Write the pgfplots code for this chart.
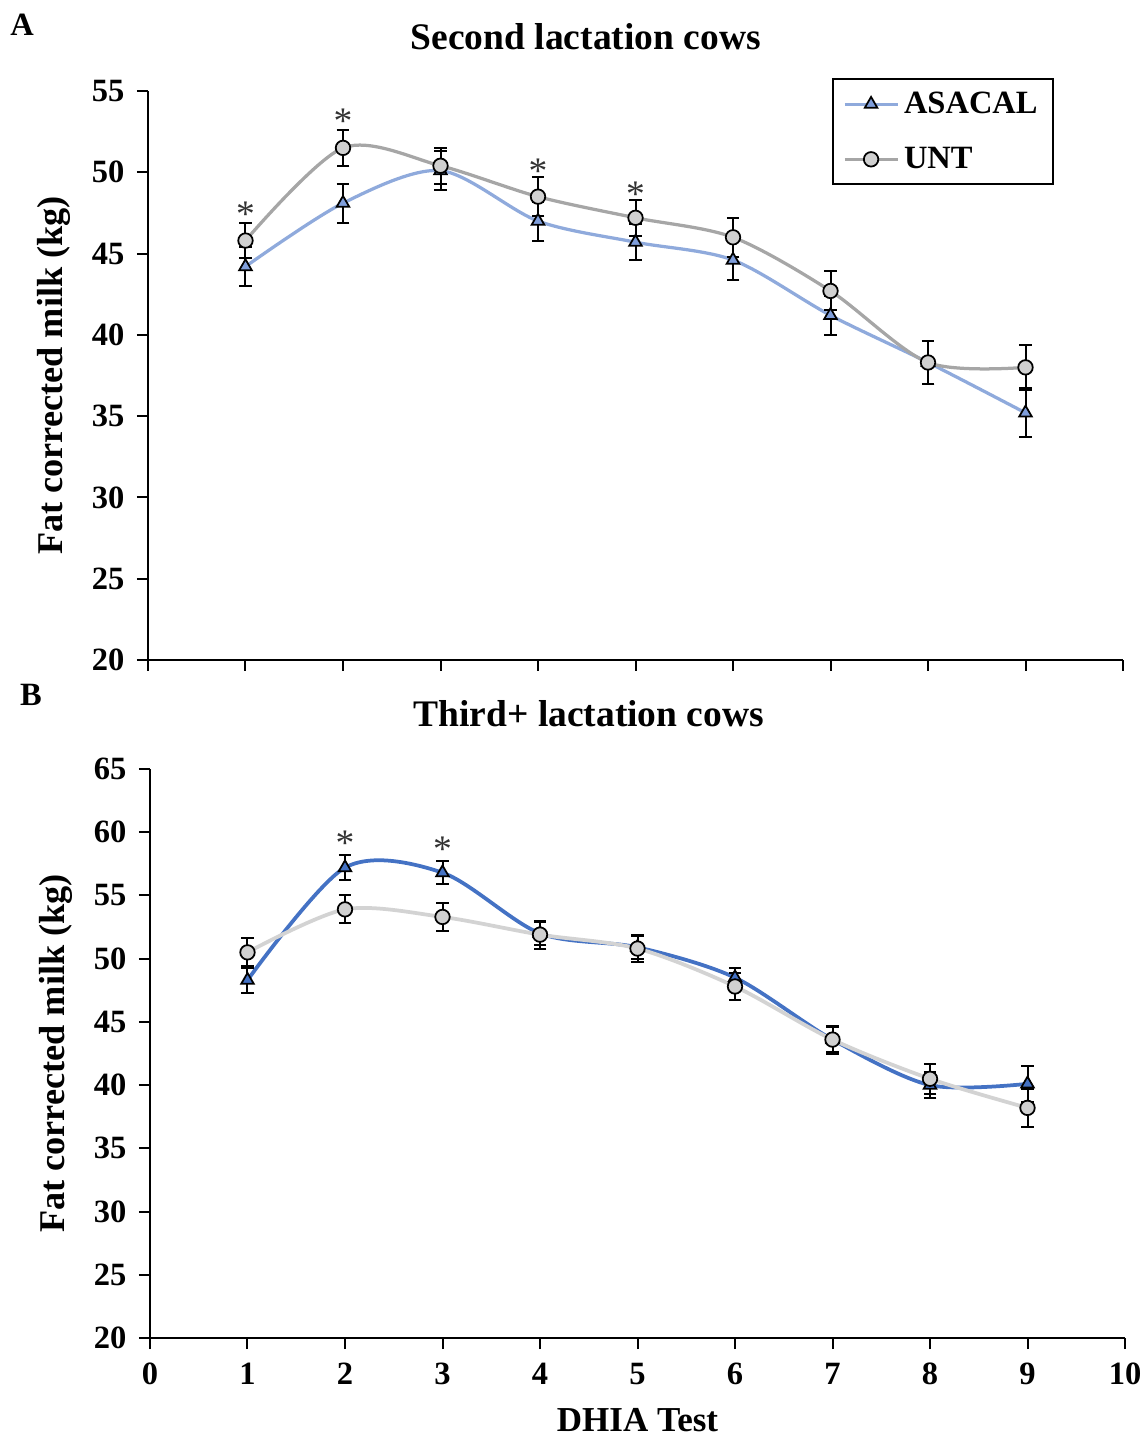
\documentclass[border=0pt]{standalone}
\usepackage{fontspec}
\setmainfont{Liberation Serif}
\usepackage{pgfplots}
\usepackage{pgfplotstable}
\pgfplotsset{compat=1.18}

\definecolor{AsaLight}{HTML}{8FAADC}
\definecolor{AsaLightFill}{HTML}{7F9EDB}
\definecolor{UntGray}{HTML}{A6A6A6}
\definecolor{UntFill}{HTML}{D0D0D0}
\definecolor{AsaDark}{HTML}{4472C4}
\definecolor{UntLight}{HTML}{D3D3D3}
\definecolor{StarGray}{HTML}{333333}

% panel A: second lactation
\pgfplotstableread{
x y e
1 44.2 1.2
2 48.1 1.2
3 50.1 1.2
4 47.0 1.2
5 45.7 1.1
6 44.6 1.2
7 41.2 1.2
8 38.3 1.3
9 35.2 1.5
}\secAsa
\pgfplotstableread{
x y e
1 45.8 1.1
2 51.5 1.1
3 50.4 1.1
4 48.5 1.2
5 47.2 1.1
6 46.0 1.2
7 42.7 1.2
8 38.3 1.3
9 38.0 1.4
}\secUnt
% panel B: third+ lactation
\pgfplotstableread{
x y e
1 48.3 1.0
2 57.2 1.0
3 56.8 0.9
4 52.0 0.9
5 50.9 0.9
6 48.5 0.8
7 43.6 1.0
8 40.0 1.0
9 40.1 1.4
}\thrAsa
\pgfplotstableread{
x y e
1 50.5 1.1
2 53.9 1.1
3 53.3 1.1
4 51.9 1.1
5 50.8 1.1
6 47.8 1.1
7 43.6 1.1
8 40.5 1.2
9 38.2 1.5
}\thrUnt

\pgfplotsset{
  panel/.style={
    scale only axis, width=390pt, height=227.6pt,
    xmin=0, xmax=10, ymin=20,
    xtick={0,1,...,10},
    axis lines=left,
    axis line style={-, line width=0.8pt, black},
    tick align=outside, major tick length=4.4pt,
    tick style={line width=0.8pt, black},
    tick label style={font=\fontsize{13}{15}\selectfont\bfseries},
    /pgf/number format/assume math mode=true,
    yticklabel style={xshift=-1.5pt},
    xticklabel style={yshift=-2pt},
    ylabel={Fat corrected milk (kg)},
    ylabel style={font=\fontsize{14.5}{17}\selectfont\bfseries,
      at={(axis description cs:-0.096,0.5)}, anchor=center},
    clip=false,
  },
  ebars/.style={error bars/.cd, y dir=both, y explicit,
    error bar style={black, line width=0.8pt},
    error mark options={rotate=90, black, mark size=2.5pt, line width=0.8pt}},
  stars/.style={only marks, mark=text, text mark={*}, text mark as node=true,
    text mark style={font=\fontsize{15}{15}\selectfont, text=StarGray}, forget plot},
  legend image code/.code={\draw[mark repeat=2,mark phase=2,#1]
    plot coordinates {(0cm,0cm) (0.37cm,0cm) (0.74cm,0cm)};},
}
\tikzset{paneltitle/.style={font=\fontsize{15}{18}\selectfont\bfseries, anchor=center}}

\begin{document}
\begin{tikzpicture}
\path[use as bounding box] (-60pt,-40.4pt) rectangle (399.2pt,535.2pt);

\begin{axis}[panel, at={(-0.8pt,271.2pt)}, anchor=south west,
  ymax=55, ytick={20,25,...,55}, xticklabels={},
  legend style={at={(0.929,1.023)}, anchor=north east, draw=black,
    line width=0.9pt, font=\fontsize{13}{15}\selectfont\bfseries,
    row sep=8pt, inner xsep=4pt, inner ysep=3pt},
  legend cell align=left]
  \addplot[AsaLight, line width=1.3pt, smooth, mark=triangle*, mark size=2.9pt,
    mark options={fill=AsaLightFill, draw=black, line width=0.7pt}, ebars]
    table[x=x, y=y, y error=e] {\secAsa};
  \addplot[UntGray, line width=1.3pt, smooth, mark=*, mark size=2.9pt,
    mark options={fill=UntFill, draw=black, line width=0.7pt}, ebars]
    table[x=x, y=y, y error=e] {\secUnt};
  \addplot[stars] coordinates {(1,47.45) (2,53.15) (4,50.05) (5,48.65)};
  \legend{ASACAL,UNT}
  \node[paneltitle] at (rel axis cs:0.449,1.095) {Second lactation cows};
  \node[font=\fontsize{13}{15}\selectfont\bfseries] at (rel axis cs:-0.129,1.116) {A};
\end{axis}

\begin{axis}[panel, at={(0pt,0pt)}, anchor=south west,
  ymax=65, ytick={20,25,...,65},
  xlabel={DHIA Test},
  xlabel style={font=\fontsize{14}{16}\selectfont\bfseries,
    at={(axis description cs:0.5,-0.144)}, anchor=center}]
  \addplot[AsaDark, line width=1.5pt, smooth, mark=triangle*, mark size=2.9pt,
    mark options={fill=AsaDark, draw=black, line width=0.7pt}, ebars]
    table[x=x, y=y, y error=e] {\thrAsa};
  \addplot[UntLight, line width=1.5pt, smooth, mark=*, mark size=2.9pt,
    mark options={fill=UntFill, draw=black, line width=0.7pt}, ebars]
    table[x=x, y=y, y error=e] {\thrUnt};
  \addplot[stars] coordinates {(2,59.15) (3,58.65)};
  \node[paneltitle] at (rel axis cs:0.45,1.097) {Third+ lactation cows};
  \node[font=\fontsize{13}{15}\selectfont\bfseries] at (rel axis cs:-0.122,1.13) {B};
\end{axis}
\end{tikzpicture}
\end{document}
